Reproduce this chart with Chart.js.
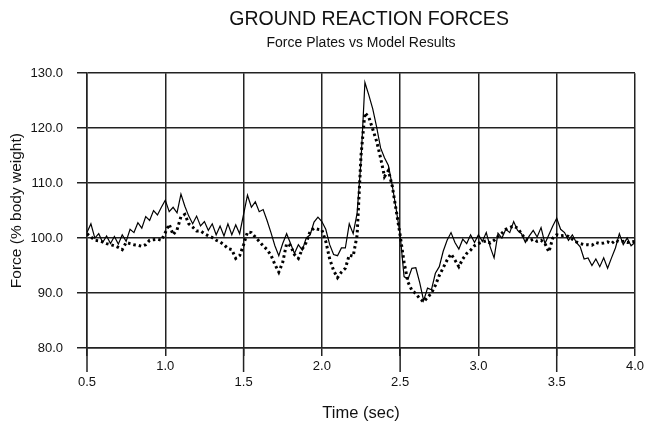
<!DOCTYPE html>
<html>
<head>
<meta charset="utf-8">
<script src="https://cdn.jsdelivr.net/npm/chart.js@4.4.1/dist/chart.umd.min.js"></script>
<style>
  html, body { margin: 0; padding: 0; background: #fff; }
  #wrap { width: 648px; height: 425px; position: relative; }
</style>
</head>
<body>
<div id="wrap"><canvas id="grfChart"></canvas></div>
<script>
  // Time samples (sec)
  var TIME = [
    0.500, 0.525, 0.550, 0.575, 0.600, 0.625, 0.650, 0.675, 0.700, 0.725,
    0.750, 0.775, 0.800, 0.825, 0.850, 0.875, 0.900, 0.925, 0.950, 0.975,
    1.000, 1.025, 1.050, 1.075, 1.100, 1.125, 1.150, 1.175, 1.200, 1.225,
    1.250, 1.275, 1.300, 1.325, 1.350, 1.375, 1.400, 1.425, 1.450, 1.475,
    1.500, 1.525, 1.550, 1.575, 1.600, 1.625, 1.650, 1.675, 1.700, 1.725,
    1.750, 1.775, 1.800, 1.825, 1.850, 1.875, 1.900, 1.925, 1.950, 1.975,
    2.000, 2.025, 2.050, 2.075, 2.100, 2.125, 2.150, 2.175, 2.200, 2.225,
    2.250, 2.275, 2.300, 2.325, 2.350, 2.375, 2.400, 2.425, 2.450, 2.475,
    2.500, 2.525, 2.550, 2.575, 2.600, 2.625, 2.650, 2.675, 2.700, 2.725,
    2.750, 2.775, 2.800, 2.825, 2.850, 2.875, 2.900, 2.925, 2.950, 2.975,
    3.000, 3.025, 3.050, 3.075, 3.100, 3.125, 3.150, 3.175, 3.200, 3.225,
    3.250, 3.275, 3.300, 3.325, 3.350, 3.375, 3.400, 3.425, 3.450, 3.475,
    3.500, 3.525, 3.550, 3.575, 3.600, 3.625, 3.650, 3.675, 3.700, 3.725,
    3.750, 3.775, 3.800, 3.825, 3.850, 3.875, 3.900, 3.925, 3.950, 3.975,
    4.000
  ];

  // Force plates (% body weight) - solid line
  var PLATE_FORCE = [
    101.0, 102.6, 100.0, 100.8, 99.2, 100.4, 99.0, 100.3, 98.9, 100.6,
    99.4, 101.6, 101.0, 102.8, 101.8, 103.9, 103.2, 105.0, 104.2, 105.6,
    106.9, 104.8, 105.6, 104.6, 108.0, 105.8, 104.0, 102.6, 104.0, 102.2,
    103.0, 101.4, 102.6, 100.6, 102.2, 100.4, 102.6, 100.6, 102.4, 100.8,
    104.3, 107.8, 105.6, 106.6, 104.8, 105.2, 103.2, 101.0, 98.6, 96.8,
    99.0, 100.8, 99.0, 97.2, 98.8, 97.8, 100.0, 100.6, 102.9, 103.8,
    103.0, 101.6, 98.8, 97.0, 96.8, 98.2, 98.2, 102.6, 100.8, 104.5,
    114.0, 128.3, 126.0, 123.5, 120.2, 116.4, 114.6, 113.2, 109.5, 105.2,
    100.6, 93.0, 92.5, 94.5, 94.6, 91.9, 88.6, 90.9, 90.6, 93.6,
    94.8, 97.6, 99.6, 101.0, 99.2, 98.0, 99.8, 99.0, 100.6, 99.2,
    100.6, 99.4, 101.0, 98.4, 96.4, 100.9, 100.0, 101.6, 101.0, 103.0,
    101.4, 100.8, 99.2, 100.4, 101.4, 100.2, 101.9, 99.0, 100.6, 102.2,
    103.6, 101.6, 101.0, 99.6, 100.6, 99.2, 98.4, 96.2, 96.4, 95.0,
    96.2, 94.8, 96.4, 94.5, 96.4, 98.2, 100.8, 98.8, 100.0, 98.6,
    99.2
  ];

  // Model results (% body weight) - dotted line
  var MODEL_FORCE = [
    100.8, 100.2, 99.6, 99.5, 99.3, 99.0, 98.8, 98.6, 98.3, 97.9,
    99.2, 99.0, 98.8, 98.7, 98.5, 98.8, 99.6, 99.7, 99.8, 99.6,
    101.0, 102.5, 100.6, 101.5, 103.9, 104.3, 102.6, 102.0, 101.3, 101.3,
    100.8, 100.4, 100.1, 99.6, 99.3, 98.8, 98.1, 97.9, 96.3, 96.8,
    98.8, 101.1, 101.0, 100.2, 99.4, 98.6, 97.9, 96.9, 95.2, 93.8,
    95.6, 99.0, 98.6, 97.0, 96.3, 98.0, 99.2, 101.2, 101.8, 101.6,
    101.5, 99.4, 96.2, 94.1, 92.8, 93.8, 94.5, 96.9, 96.7, 100.5,
    115.0, 122.8, 122.0, 119.8, 117.6, 114.6, 111.2, 112.3, 109.4, 105.0,
    100.5, 95.6, 92.0, 90.5, 89.9, 89.0, 88.4, 89.2, 90.0, 91.4,
    93.2, 94.6, 96.0, 97.1, 96.0, 94.8, 96.2, 97.2, 97.8, 98.6,
    99.0, 99.3, 99.5, 99.1, 99.6, 100.3, 100.9, 101.6, 101.9, 102.2,
    101.8, 100.8, 99.8, 99.5, 99.8, 99.4, 99.6, 99.0, 97.5, 100.0,
    100.6, 100.4, 100.5, 100.3, 99.8, 99.3, 99.0, 98.8, 98.8, 98.7,
    99.2, 99.0, 99.1, 99.3, 99.0, 99.6, 99.3, 99.4, 99.2, 99.3,
    99.4
  ];

  // Axis ticks
  var X_TICKS = [0.5, 1.0, 1.5, 2.0, 2.5, 3.0, 3.5, 4.0];
  var Y_TICKS = [80, 90, 100, 110, 120, 130];

  var FONT = "'Liberation Sans', Arial, Helvetica, sans-serif";
  var GRID = '#222';

  function toPoints(values) {
    return TIME.map(function (t, i) { return { x: t, y: values[i] }; });
  }

  // half-second ticks reach further down, under the lower label row
  var longTicks = {
    id: 'longTicks',
    afterDraw: function (chart) {
      var xs = chart.scales.x;
      var ctx = chart.ctx;
      ctx.save();
      ctx.strokeStyle = GRID;
      ctx.lineWidth = 1.5;
      X_TICKS.forEach(function (v, i) {
        if (i % 2 !== 0) return;
        var px = xs.getPixelForValue(v);
        ctx.beginPath();
        ctx.moveTo(px, xs.top);
        ctx.lineTo(px, xs.top + 24);
        ctx.stroke();
      });
      ctx.restore();
    }
  };

  new Chart(document.getElementById('grfChart').getContext('2d'), {
    type: 'line',
    data: {
      datasets: [{
        label: 'Force Plates',
        data: toPoints(PLATE_FORCE),
        borderColor: '#000',
        borderWidth: 1.2,
        pointRadius: 0,
        tension: 0,
        fill: false
      }, {
        label: 'Model Results',
        data: toPoints(MODEL_FORCE),
        borderColor: '#000',
        borderWidth: 3,
        borderDash: [2.5, 3],
        borderCapStyle: 'butt',
        pointRadius: 0,
        tension: 0,
        fill: false
      }]
    },
    options: {
      responsive: true,
      maintainAspectRatio: false,
      animation: false,
      layout: { padding: { left: 0, right: 13, top: 0, bottom: 0 } },
      scales: {
        x: {
          type: 'linear',
          min: 0.5,
          max: 4.0,
          afterFit: function (s) { s.height = 77; },
          afterBuildTicks: function (s) {
            s.ticks = X_TICKS.map(function (v) { return { value: v }; });
          },
          ticks: {
            color: '#111',
            font: { family: FONT, size: 13 },
            padding: 3,
            maxRotation: 0,
            autoSkip: false,
            callback: function (v) {
              var i = X_TICKS.indexOf(v);
              var s = v.toFixed(1);
              return i % 2 === 0 ? ['', s] : [s];
            }
          },
          grid: { color: GRID, lineWidth: 1.5, tickLength: 8 },
          border: { color: GRID, width: 1.5 },
          title: {
            display: true,
            text: 'Time (sec)',
            color: '#111',
            font: { family: FONT, size: 16.5 },
            padding: { top: 0, bottom: 2 }
          }
        },
        y: {
          min: 80,
          max: 130,
          afterFit: function (s) { s.width = 87; },
          afterBuildTicks: function (s) {
            s.ticks = Y_TICKS.map(function (v) { return { value: v }; });
          },
          ticks: {
            color: '#111',
            font: { family: FONT, size: 13 },
            padding: 14,
            callback: function (v) { return v.toFixed(1); }
          },
          grid: { color: GRID, lineWidth: 1.5, tickLength: 10 },
          border: { color: GRID, width: 1.5 },
          title: {
            display: true,
            text: 'Force (% body weight)',
            color: '#111',
            font: { family: FONT, size: 15.5 },
            padding: { top: 7, bottom: 0 }
          }
        }
      },
      plugins: {
        legend: { display: false },
        tooltip: { enabled: false },
        title: {
          display: true,
          fullSize: false,
          text: '   GROUND REACTION FORCES',
          color: '#111',
          font: { family: FONT, size: 19.5, weight: 'normal' },
          padding: { top: 8, bottom: 2 }
        },
        subtitle: {
          display: true,
          fullSize: false,
          text: 'Force Plates vs Model Results',
          color: '#111',
          font: { family: FONT, size: 14, weight: 'normal' },
          padding: { top: 1, bottom: 22 }
        }
      }
    },
    plugins: [longTicks]
  });
</script>
</body>
</html>
